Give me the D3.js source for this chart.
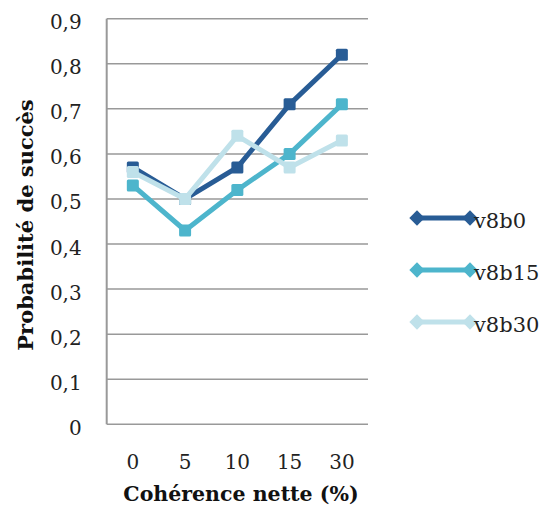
<!DOCTYPE html>
<html><head><meta charset="utf-8">
<script src="https://cdnjs.cloudflare.com/ajax/libs/d3/7.8.5/d3.min.js"></script>
<style>body{margin:0;background:#fff}svg{display:block}</style>
</head><body>
<script>
const categories = ["0","5","10","15","30"];
const seriesNames = ["v8b0","v8b15","v8b30"];
const v8b0 = [0.57,0.50,0.57,0.71,0.82];
const v8b15 = [0.53,0.43,0.52,0.60,0.71];
const v8b30 = [0.56,0.50,0.64,0.57,0.63];
const yTicks = [0,0.1,0.2,0.3,0.4,0.5,0.6,0.7,0.8,0.9];
const colors = ["#285c95","#4db5cc","#bfe1ea"];
const seriesData = [v8b0, v8b15, v8b30];

(function(){
const W=553,H=519;
const svg=d3.select("body").append("svg").attr("width",W).attr("height",H);
const pL=106.7,pR=368,pT=18.7,pB=424.3;
const x=d3.scaleBand().domain(categories).range([pL,pR]);
const y=d3.scaleLinear().domain([0,0.9]).range([pB,pT]);
const font="DejaVu Serif, serif";

svg.append("g").selectAll("line").data(yTicks).join("line")
  .attr("x1",pL).attr("x2",pR).attr("y1",d=>y(d)).attr("y2",d=>y(d))
  .attr("stroke","#999").attr("stroke-width",1.5);
svg.append("line").attr("x1",pL).attr("x2",pL).attr("y1",pT).attr("y2",pB)
  .attr("stroke","#999").attr("stroke-width",2);

const yAxis=d3.axisLeft(y).tickValues(yTicks).tickSize(0).tickPadding(25)
  .tickFormat(d=>d===0?"0":d3.format(".1f")(d).replace(".",","));
const ya=svg.append("g").attr("transform",`translate(${pL},0)`).call(yAxis);
ya.select(".domain").remove();
ya.attr("font-family",null).attr("font-size",null);
ya.selectAll("text").style("font-family",font).style("font-size","20px").attr("fill","#222").attr("dy","0.5em");

const xAxis=d3.axisBottom(x).tickSize(0).tickPadding(31);
const xa=svg.append("g").attr("transform",`translate(0,${pB})`).call(xAxis);
xa.select(".domain").remove();
xa.attr("font-family",null).attr("font-size",null);
xa.selectAll("text").style("font-family",font).style("font-size","20px").attr("fill","#222");

svg.append("text").attr("x",241).attr("y",501).attr("text-anchor","middle")
  .style("font-family",font).style("font-size","20.5px").attr("font-weight","bold").attr("fill","#111")
  .text("Cohérence nette (%)");
svg.append("text").attr("transform",`translate(33,225) rotate(-90)`).attr("text-anchor","middle")
  .style("font-family",font).style("font-size","21px").attr("font-weight","bold").attr("fill","#111")
  .text("Probabilité de succès");

const line=d3.line().x((d,i)=>x(categories[i])+x.bandwidth()/2).y(d=>y(d));
[0,1,2].forEach(si=>{
  const g=svg.append("g");
  g.append("path").datum(seriesData[si]).attr("d",line).attr("fill","none")
    .attr("stroke",colors[si]).attr("stroke-width",5).attr("stroke-linejoin","round");
  g.selectAll("rect").data(seriesData[si]).join("rect")
    .attr("x",(d,i)=>x(categories[i])+x.bandwidth()/2-6).attr("y",d=>y(d)-6)
    .attr("width",12).attr("height",12).attr("rx",1.5).attr("fill",colors[si]);
});

const legY=[218,270,322];
seriesNames.forEach((n,i)=>{
  const g=svg.append("g").attr("transform",`translate(0,${legY[i]})`);
  g.append("line").attr("x1",417).attr("x2",470).attr("y1",0).attr("y2",0)
    .attr("stroke",colors[i]).attr("stroke-width",5);
  [417,470].forEach(cx=>g.append("path").attr("d",d3.symbol(d3.symbolDiamond2,150)())
    .attr("transform",`translate(${cx},0)`).attr("fill",colors[i]));
  g.append("text").attr("x",474).attr("y",10).style("font-family",font).style("font-size","21px")
    .attr("fill","#222").text(n);
});
})();
</script>
</body></html>
